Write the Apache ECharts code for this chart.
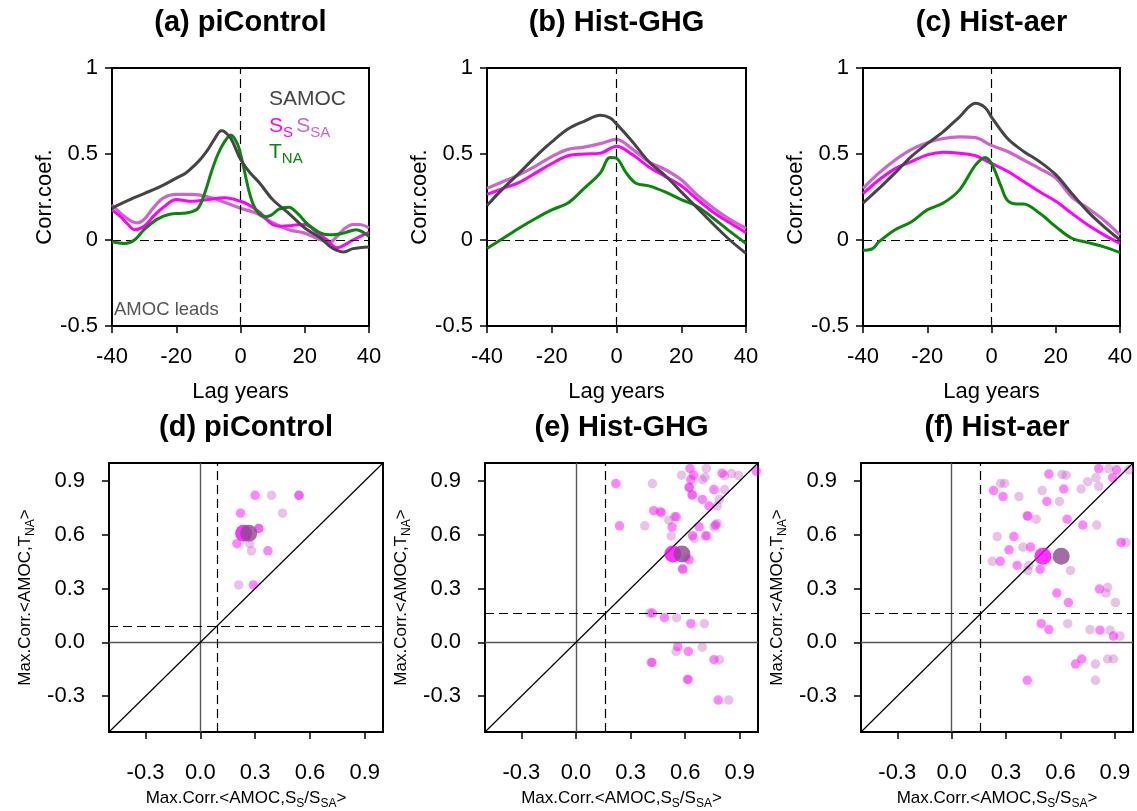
<!DOCTYPE html>
<html>
<head>
<meta charset="utf-8">
<script src="https://cdn.jsdelivr.net/npm/echarts@6/dist/echarts.min.js"></script>
<style>html,body{margin:0;padding:0;background:#fff}#c{width:1137px;height:811px}</style>
</head>
<body>
<div id="c"></div>
<script>
// ---------------- DATA: top row (lagged correlations) ----------------
const panelTitlesTop = ['(a) piControl', '(b) Hist-GHG', '(c) Hist-aer'];
const panelTitlesBottom = ['(d) piControl', '(e) Hist-GHG', '(f) Hist-aer'];
const lagTicks = [-40, -20, 0, 20, 40];
const corrTicks = [-0.5, 0, 0.5, 1];
const scatterTicks = [-0.3, 0.0, 0.3, 0.6, 0.9];

// (a) piControl
const a_samoc_lag = [-40,-35,-30,-25,-20,-17,-14,-12,-10,-8,-6,-5,-3,0,3,6,10,15,20,25,28,30,32,35,40];
const a_samoc_val = [0.185,0.23,0.27,0.31,0.36,0.39,0.44,0.48,0.53,0.59,0.635,0.63,0.59,0.47,0.39,0.33,0.235,0.155,0.07,0.01,-0.04,-0.06,-0.07,-0.05,-0.04];
const a_tna_lag = [-40,-36,-33,-30,-26,-22,-18,-15,-13,-11,-9,-7,-5,-3,-1,0,1,3,5,8,10,12,15,18,21,25,28,32,36,40];
const a_tna_val = [-0.01,-0.02,0.0,0.06,0.12,0.15,0.155,0.165,0.19,0.28,0.40,0.50,0.57,0.61,0.56,0.50,0.42,0.26,0.17,0.135,0.15,0.18,0.19,0.15,0.09,0.04,0.03,0.04,0.06,0.02];
const a_ss_lag = [-40,-37,-35,-33,-30,-27,-24,-20,-15,-10,-5,0,3,6,10,13,16,20,24,27,30,35,40];
const a_ss_val = [0.175,0.13,0.09,0.06,0.08,0.14,0.19,0.235,0.225,0.235,0.245,0.225,0.2,0.16,0.09,0.08,0.085,0.09,0.04,0.0,-0.045,0.0,0.045];
const a_ssa_lag = [-40,-37,-34,-32,-30,-27,-24,-20,-15,-10,-5,0,5,10,15,20,25,28,30,32,35,37,40];
const a_ssa_val = [0.205,0.15,0.11,0.1,0.12,0.19,0.245,0.265,0.265,0.25,0.22,0.185,0.155,0.1,0.06,0.04,0.0,-0.01,0.02,0.06,0.09,0.09,0.07];

// (b) Hist-GHG
const b_samoc_lag = [-40,-35,-30,-25,-20,-15,-10,-5,-2,0,5,10,15,20,25,30,35,40];
const b_samoc_val = [0.20,0.30,0.39,0.485,0.57,0.645,0.69,0.725,0.71,0.675,0.57,0.455,0.375,0.28,0.185,0.09,0.0,-0.078];
const b_tna_lag = [-40,-35,-30,-25,-20,-15,-10,-5,-2,0,3,6,10,15,20,25,30,35,40];
const b_tna_val = [-0.05,0.01,0.07,0.125,0.175,0.215,0.30,0.39,0.48,0.475,0.39,0.33,0.315,0.28,0.235,0.195,0.125,0.05,-0.02];
const b_ss_lag = [-40,-35,-30,-25,-20,-15,-10,-5,0,5,10,15,20,25,30,35,40];
const b_ss_val = [0.265,0.30,0.335,0.39,0.445,0.49,0.50,0.505,0.545,0.495,0.425,0.37,0.315,0.235,0.16,0.10,0.043];
const b_ssa_lag = [-40,-35,-30,-25,-20,-15,-10,-5,0,5,10,15,20,25,30,35,40];
const b_ssa_val = [0.30,0.34,0.38,0.43,0.485,0.527,0.54,0.56,0.585,0.527,0.455,0.41,0.35,0.26,0.185,0.12,0.068];

// (c) Hist-aer
const c_samoc_lag = [-40,-35,-30,-25,-20,-15,-10,-5,-2,0,5,10,15,20,25,30,35,40];
const c_samoc_val = [0.215,0.30,0.39,0.485,0.56,0.63,0.715,0.795,0.77,0.715,0.59,0.515,0.455,0.38,0.27,0.165,0.078,0.0];
const c_tna_lag = [-40,-37,-35,-30,-25,-20,-15,-10,-5,-2,0,3,5,8,10,15,20,25,30,35,40];
const c_tna_val = [-0.06,-0.05,-0.01,0.06,0.105,0.175,0.215,0.29,0.435,0.48,0.445,0.31,0.23,0.21,0.21,0.155,0.078,0.01,-0.015,-0.04,-0.073];
const c_ss_lag = [-40,-35,-30,-25,-20,-15,-10,-5,0,5,10,15,20,25,30,35,40];
const c_ss_val = [0.27,0.35,0.415,0.455,0.495,0.51,0.505,0.49,0.445,0.40,0.34,0.28,0.225,0.155,0.087,0.03,-0.02];
const c_ssa_lag = [-40,-35,-30,-25,-20,-15,-10,-5,0,5,10,15,20,25,30,35,40];
const c_ssa_val = [0.30,0.39,0.465,0.525,0.565,0.59,0.60,0.595,0.55,0.515,0.465,0.415,0.36,0.25,0.185,0.115,0.03];

// ---------------- DATA: bottom row (max correlations) ----------------
// (d) piControl
const d_ss_x = [0.30,0.22,0.20,0.37,0.29,0.32,0.54];
const d_ss_y = [0.82,0.72,0.55,0.51,0.32,0.635,0.82];
const d_ssa_x = [0.39,0.45,0.27,0.28,0.21,0.54,0.32];
const d_ssa_y = [0.82,0.72,0.55,0.51,0.32,0.82,0.635];
const d_mean_ss = [0.237, 0.608];
const d_mean_ssa = [0.265, 0.608];
const d_threshold = 0.086;

// (e) Hist-GHG
const e_ss_x = [0.219,0.239,0.427,0.528,0.626,0.646,0.631,0.622,0.640,0.694,0.758,0.731,0.803,0.99,0.676,0.640,0.712,0.767,0.622,0.586,0.42,0.486,0.631,0.559,0.617,0.414,0.758,0.613,0.781,0.55,0.468];
const e_ss_y = [0.885,0.65,0.734,0.643,0.97,0.932,0.907,0.864,0.822,0.797,0.852,0.76,0.943,0.955,0.645,0.595,0.593,0.654,0.46,0.407,0.163,0.137,0.104,-0.024,-0.051,-0.112,-0.097,-0.207,-0.322,0.70,0.723];
const e_ssa_x = [0.42,0.378,0.523,0.58,0.716,0.709,0.694,0.816,0.854,0.893,0.817,0.788,0.776,0.776,0.758,0.649,0.721,0.51,0.54,0.463,0.622,0.636,0.586,0.604,0.405,0.553,0.705,0.694,0.55,0.42,0.788,0.617,0.839];
const e_ssa_y = [0.885,0.65,0.593,0.932,0.97,0.92,0.907,0.93,0.941,0.93,0.852,0.797,0.76,0.663,0.645,0.58,0.595,0.681,0.70,0.731,0.864,0.822,0.412,0.47,0.163,0.137,0.104,-0.027,-0.051,-0.112,-0.097,-0.207,-0.322];
const e_mean_ss = [0.532, 0.493];
const e_mean_ssa = [0.582, 0.493];
const e_threshold = 0.162;

// (f) Hist-aer
const f_ss_x = [0.536,0.231,0.283,0.525,0.618,0.811,0.91,0.888,0.637,0.723,0.343,0.316,0.435,0.268,0.361,0.488,0.42,0.58,0.644,0.815,0.934,0.494,0.536,0.818,0.892,0.717,0.683,0.417];
const f_ss_y = [0.938,0.846,0.813,0.786,0.855,0.969,0.962,0.919,0.687,0.654,0.59,0.516,0.531,0.452,0.429,0.407,0.705,0.275,0.222,0.297,0.557,0.104,0.071,0.068,0.035,-0.093,-0.121,-0.212];
const f_ssa_x = [0.609,0.631,0.27,0.292,0.371,0.499,0.594,0.714,0.75,0.796,0.811,0.866,0.976,0.466,0.8,0.251,0.393,0.224,0.42,0.655,0.426,0.961,0.851,0.86,0.903,0.64,0.763,0.873,0.928,0.86,0.892,0.793,0.793,0.415];
const f_ssa_y = [0.936,0.932,0.886,0.886,0.813,0.846,0.786,0.855,0.896,0.919,0.87,0.969,0.962,0.687,0.654,0.59,0.531,0.452,0.401,0.401,0.429,0.557,0.275,0.306,0.222,0.104,0.071,0.068,0.035,-0.093,-0.093,-0.121,-0.212,0.705];
const f_mean_ss = [0.503, 0.48];
const f_mean_ssa = [0.604, 0.48];
const f_threshold = 0.162;

// ---------------- BUILD ----------------
const FONT = "'Liberation Sans', Arial, Helvetica, sans-serif";
const C_SAMOC = '#454545', C_SS = '#ff00ff', C_SSA = '#cc66cc', C_TNA = '#0a870a';

const topData = [
  {samoc:[a_samoc_lag,a_samoc_val], tna:[a_tna_lag,a_tna_val], ss:[a_ss_lag,a_ss_val], ssa:[a_ssa_lag,a_ssa_val]},
  {samoc:[b_samoc_lag,b_samoc_val], tna:[b_tna_lag,b_tna_val], ss:[b_ss_lag,b_ss_val], ssa:[b_ssa_lag,b_ssa_val]},
  {samoc:[c_samoc_lag,c_samoc_val], tna:[c_tna_lag,c_tna_val], ss:[c_ss_lag,c_ss_val], ssa:[c_ssa_lag,c_ssa_val]}
];
const botData = [
  {ss:[d_ss_x,d_ss_y], ssa:[d_ssa_x,d_ssa_y], mss:d_mean_ss, mssa:d_mean_ssa, thr:d_threshold},
  {ss:[e_ss_x,e_ss_y], ssa:[e_ssa_x,e_ssa_y], mss:e_mean_ss, mssa:e_mean_ssa, thr:e_threshold},
  {ss:[f_ss_x,f_ss_y], ssa:[f_ssa_x,f_ssa_y], mss:f_mean_ss, mssa:f_mean_ssa, thr:f_threshold}
];

const topGrids = [
  {left:112, top:68, width:257, height:258},
  {left:487, top:68, width:259, height:258},
  {left:863, top:68, width:257, height:258}
];
const botGrids = [
  {left:109, top:463, width:274, height:273},
  {left:485, top:463, width:273, height:273},
  {left:861, top:463, width:272, height:273}
];

const grid = [], xAxis = [], yAxis = [], series = [], graphic = [];
const zip = (a,b) => a.map((v,i) => [v, b[i]]);
const tickStyle = {show:true, inside:false, length:7, lineStyle:{color:'#000', width:1.5}};
const hiddenLine = {show:false, onZero:false};
const subRich = {
  n: {fontSize:17, fontFamily:FONT, color:'#000', lineHeight:24, verticalAlign:'middle'},
  s: {fontSize:12, fontFamily:FONT, color:'#000', lineHeight:24, verticalAlign:'bottom'}
};

topGrids.forEach((g, i) => {
  grid.push(Object.assign({show:true, borderColor:'#000', borderWidth:2, backgroundColor:'transparent', containLabel:false}, g));
  xAxis.push({gridIndex:i, type:'value', min:-40, max:40, interval:20, position:'bottom',
    axisLine:hiddenLine, axisTick:tickStyle, splitLine:{show:false},
    axisLabel:{margin:20, fontSize:22, color:'#000', fontFamily:FONT},
    name:'Lag years', nameLocation:'middle', nameGap:55,
    nameTextStyle:{fontSize:22, color:'#000', fontFamily:FONT}});
  yAxis.push({gridIndex:i, type:'value', min:-0.5, max:1, interval:0.5, position:'left',
    axisLine:hiddenLine, axisTick:tickStyle, splitLine:{show:false},
    axisLabel:{margin:14, fontSize:22, color:'#000', fontFamily:FONT},
    name:'Corr.coef.', nameLocation:'middle', nameGap:55,
    nameTextStyle:{fontSize:22, color:'#000', fontFamily:FONT}});
  const d = topData[i];
  const mk = (key, color, width, z) => ({type:'line', xAxisIndex:i, yAxisIndex:i,
    data: zip(d[key][0], d[key][1]), smooth:0.35, showSymbol:false, symbol:'none', z:z,
    lineStyle:{color:color, width:width}, silent:true, animation:false});
  series.push({type:'line', xAxisIndex:i, yAxisIndex:i, data:[], z:1, animation:false, silent:true,
    markLine:{silent:true, symbol:'none', animation:false, label:{show:false},
      lineStyle:{color:'#000', width:1.2, type:[9,5]},
      data:[{xAxis:0},{yAxis:0}]}});
  series.push(mk('ssa', C_SSA, 3.2, 3));
  series.push(mk('ss', C_SS, 3, 4));
  series.push(mk('tna', C_TNA, 3, 5));
  series.push(mk('samoc', C_SAMOC, 3, 6));
  graphic.push({type:'text', x:g.left + g.width/2, y:23, style:{text:panelTitlesTop[i],
    font:"bold 29px " + FONT, fill:'#000', align:'center', verticalAlign:'middle'}});
});

botGrids.forEach((g, j) => {
  const i = j + 3;
  grid.push(Object.assign({show:true, borderColor:'#000', borderWidth:2, backgroundColor:'transparent', containLabel:false}, g));
  xAxis.push({gridIndex:i, type:'value', min:-0.5, max:1, position:'bottom',
    axisLine:hiddenLine, axisTick:Object.assign({customValues:scatterTicks}, tickStyle), splitLine:{show:false},
    axisLabel:{customValues:scatterTicks, margin:30, fontSize:22, color:'#000', fontFamily:FONT, formatter:v => v.toFixed(1)},
    name:'{n|Max.Corr.<AMOC,S}{s|S}{n|/S}{s|SA}{n|>}', nameLocation:'middle', nameGap:54,
    nameTextStyle:{rich:subRich}});
  yAxis.push({gridIndex:i, type:'value', min:-0.5, max:1, position:'left',
    axisLine:hiddenLine, axisTick:Object.assign({customValues:scatterTicks}, tickStyle), splitLine:{show:false},
    axisLabel:{customValues:scatterTicks, margin:24, fontSize:22, color:'#000', fontFamily:FONT, formatter:v => v.toFixed(1)},
    name:'{n|Max.Corr.<AMOC,T}{s|NA}{n|>}', nameLocation:'middle', nameGap:72,
    nameTextStyle:{rich:subRich}});
  const d = botData[j];
  series.push({type:'line', xAxisIndex:i, yAxisIndex:i, data:[], z:1, animation:false, silent:true,
    markLine:{silent:true, symbol:'none', animation:false, label:{show:false},
      data:[
        {xAxis:0, lineStyle:{color:'#555', width:1.4, type:'solid'}},
        {yAxis:0, lineStyle:{color:'#555', width:1.4, type:'solid'}},
        {xAxis:d.thr, lineStyle:{color:'#000', width:1.2, type:[9,5]}},
        {yAxis:d.thr, lineStyle:{color:'#000', width:1.2, type:[9,5]}},
        [{coord:[-0.5,-0.5], lineStyle:{color:'#000', width:1.2, type:'solid'}}, {coord:[1,1]}]
      ]}});
  series.push({type:'scatter', xAxisIndex:i, yAxisIndex:i, data:zip(d.ssa[0], d.ssa[1]), symbolSize:9.5, z:3,
    itemStyle:{color:'rgba(200,100,200,0.5)'}, silent:true, animation:false, clip:false});
  series.push({type:'scatter', xAxisIndex:i, yAxisIndex:i, data:zip(d.ss[0], d.ss[1]), symbolSize:9.5, z:4,
    itemStyle:{color:'rgba(255,0,255,0.6)'}, silent:true, animation:false, clip:false});
  series.push({type:'scatter', xAxisIndex:i, yAxisIndex:i, data:[d.mss], symbolSize:17, z:5,
    itemStyle:{color:'#ff00ff'}, silent:true, animation:false});
  series.push({type:'scatter', xAxisIndex:i, yAxisIndex:i, data:[d.mssa], symbolSize:17, z:6,
    itemStyle:{color:'#8b4a8b'}, silent:true, animation:false});
  graphic.push({type:'text', x:g.left + g.width/2, y:428, style:{text:panelTitlesBottom[j],
    font:"bold 29px " + FONT, fill:'#000', align:'center', verticalAlign:'middle'}});
});

// legend text and annotation inside panel (a)
graphic.push({type:'text', x:269, y:99, style:{text:'SAMOC', font:"21px " + FONT, fill:C_SAMOC, verticalAlign:'middle'}});
graphic.push({type:'text', x:269, y:112, style:{text:'{a|S}{as|S} {b|S}{bs|SA}',
  rich:{
    a:{fontSize:21, fontFamily:FONT, fill:C_SS, color:C_SS, lineHeight:28, verticalAlign:'middle'},
    as:{fontSize:15, fontFamily:FONT, fill:C_SS, color:C_SS, lineHeight:28, verticalAlign:'bottom'},
    b:{fontSize:21, fontFamily:FONT, fill:C_SSA, color:C_SSA, lineHeight:28, verticalAlign:'middle'},
    bs:{fontSize:15, fontFamily:FONT, fill:C_SSA, color:C_SSA, lineHeight:28, verticalAlign:'bottom'}
  }}});
graphic.push({type:'text', x:269, y:138, style:{text:'{a|T}{as|NA}',
  rich:{
    a:{fontSize:21, fontFamily:FONT, fill:C_TNA, color:C_TNA, lineHeight:28, verticalAlign:'middle'},
    as:{fontSize:15, fontFamily:FONT, fill:C_TNA, color:C_TNA, lineHeight:28, verticalAlign:'bottom'}
  }}});
graphic.push({type:'text', x:114, y:310, style:{text:'AMOC leads', font:"18.5px " + FONT, fill:'#555', verticalAlign:'middle'}});

const chart = echarts.init(document.getElementById('c'), null, {renderer:'canvas'});
chart.setOption({animation:false, backgroundColor:'#fff', grid, xAxis, yAxis, series, graphic});
</script>
</body>
</html>
